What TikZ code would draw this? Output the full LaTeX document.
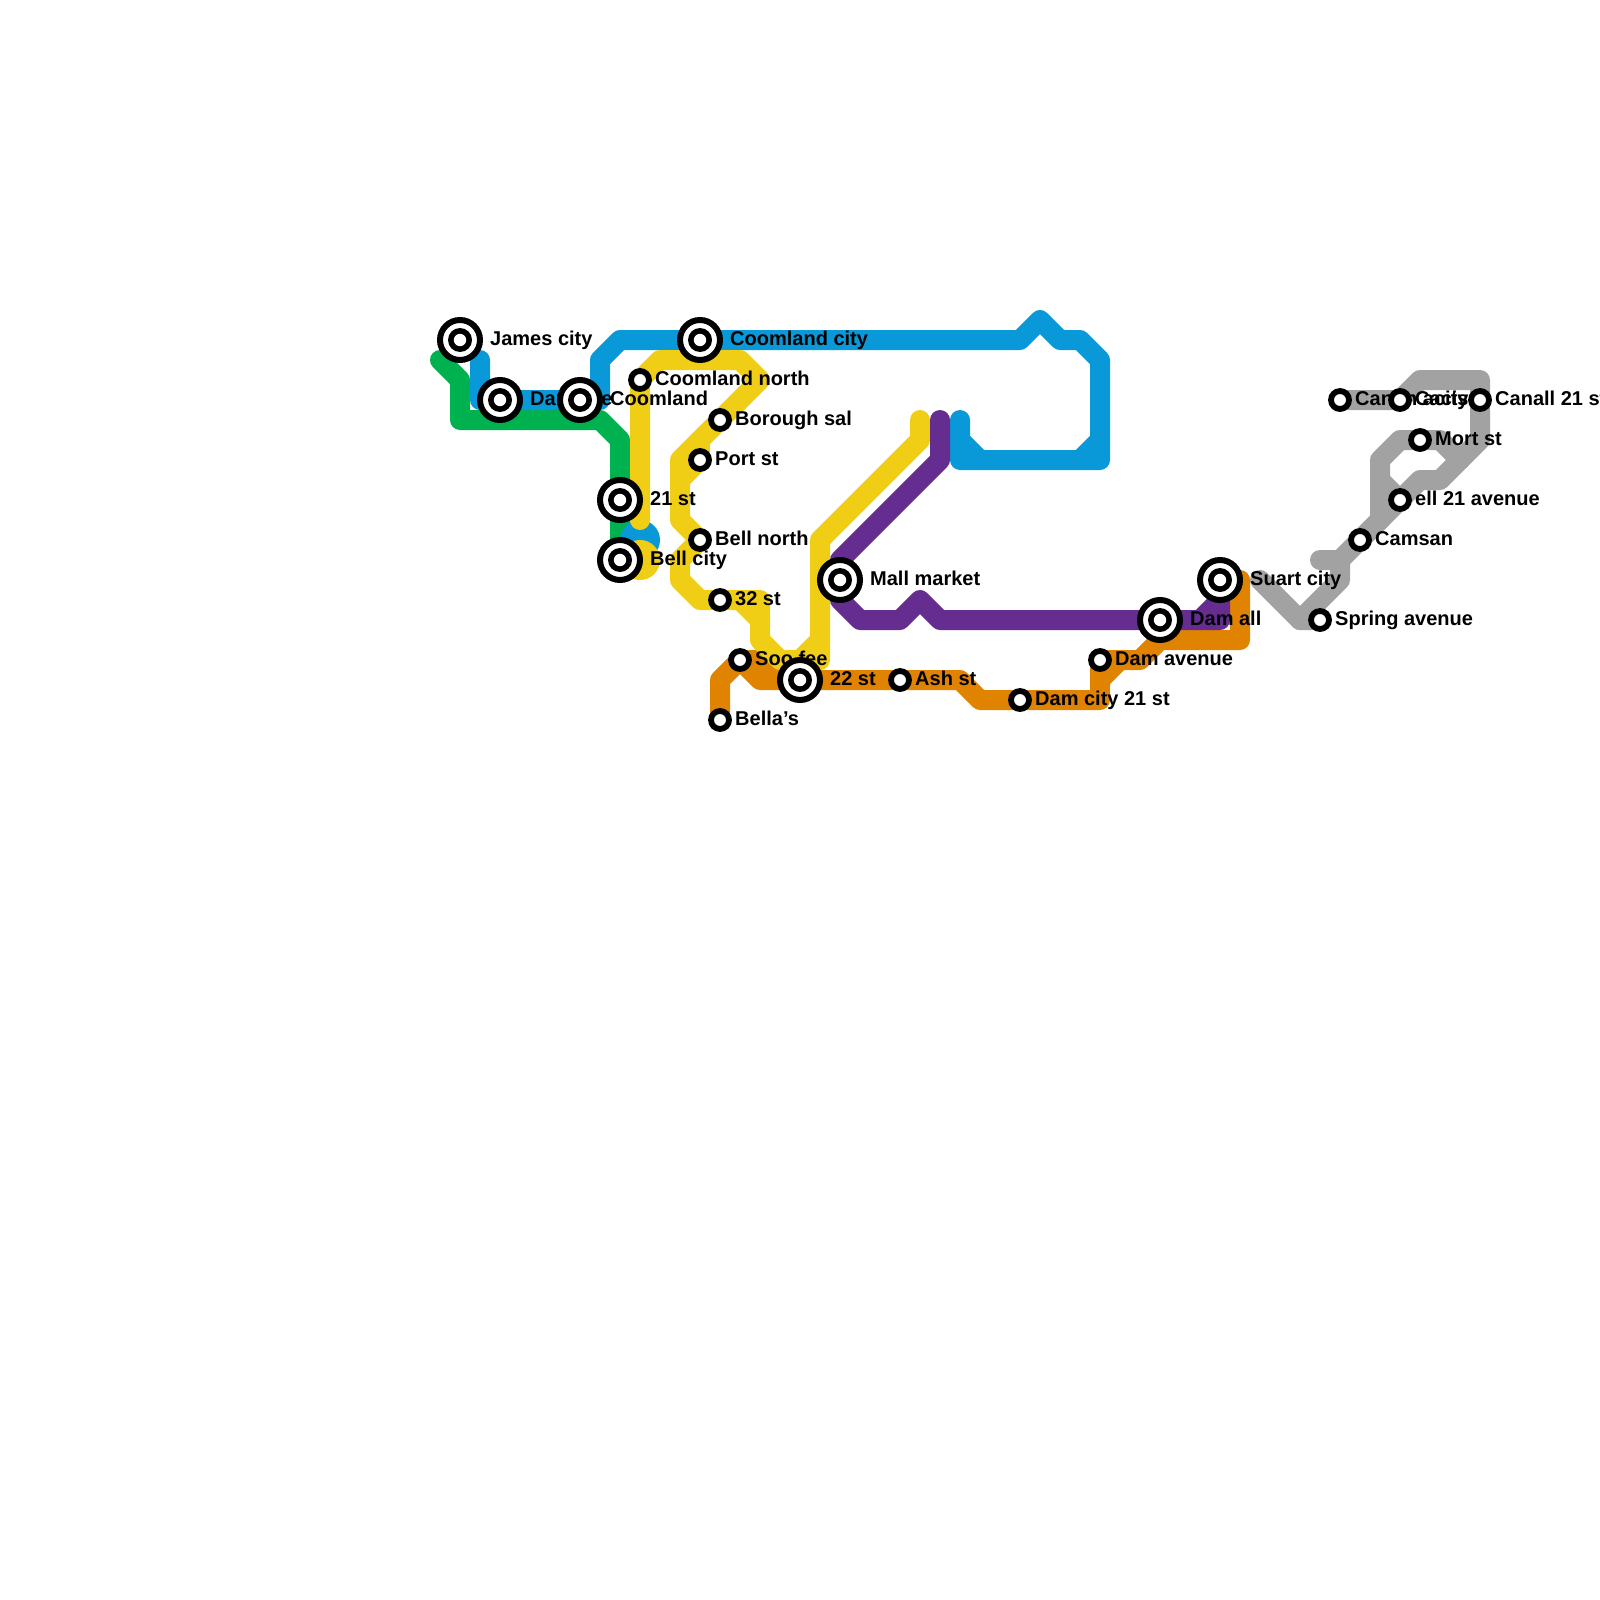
\documentclass[tikz,border=0pt]{standalone}
\usepackage{fontspec}
\setmainfont{Liberation Sans}[BoldFont={Liberation Sans Bold}]
\pgfdeclarelayer{routes}
\pgfdeclarelayer{labels}
\pgfsetlayers{routes,labels,main}
\definecolor{rblue}{RGB}{9,152,216}
\definecolor{rgreen}{RGB}{0,177,79}
\definecolor{ryellow}{RGB}{240,206,21}
\definecolor{rpurple}{RGB}{102,45,145}
\definecolor{rorange}{RGB}{223,131,0}
\definecolor{rgrey}{RGB}{162,162,162}
\tikzset{
  x=1pt,y=-1pt,
  route/.style={line width=20pt,line join=round,line cap=round},
  bigstn/.style={circle,draw=black,fill=white,line width=6pt,minimum size=40pt,inner sep=0pt,outer sep=0pt,
    path picture={\fill[black] (path picture bounding box.center) circle (12pt);\fill[white] (path picture bounding box.center) circle (6.2pt);}},
  smallstn/.style={circle,draw=black,fill=white,line width=5.8pt,minimum size=18pt,inner sep=0pt,outer sep=0pt},
  lab/.style={anchor=base west,font=\fontsize{20pt}{22pt}\selectfont\bfseries,inner sep=0pt,text=black},
}
\newcommand{\biglab}[3]{\begin{pgfonlayer}{labels}\node[lab] (l#1) at ([xshift=30pt,yshift=-5pt]#1.center) {#2};\end{pgfonlayer}}
\newcommand{\smalllab}[3]{\begin{pgfonlayer}{labels}\node[lab] (l#1) at ([xshift=15pt,yshift=-5pt]#1.center) {#2};\end{pgfonlayer}}
\begin{document}
\begin{tikzpicture}
\useasboundingbox (0,0) rectangle (1600,1600);
% stations
\node[bigstn] (james) at (460,340) {};
\node[bigstn] (daml) at (500,400) {};
\node[bigstn] (cooml) at (580,400) {};
\node[bigstn] (coomc) at (700,340) {};
\node[smallstn] (coomn) at (640,380) {};
\node[smallstn] (borough) at (720,420) {};
\node[smallstn] (port) at (700,460) {};
\node[bigstn] (tws) at (620,500) {};
\node[smallstn] (belln) at (700,540) {};
\node[bigstn] (bellc) at (620,560) {};
\node[smallstn] (tts) at (720,600) {};
\node[smallstn] (soo) at (740,660) {};
\node[bigstn] (tt) at (800,680) {};
\node[smallstn] (ash) at (900,680) {};
\node[smallstn] (bella) at (720,720) {};
\node[bigstn] (mall) at (840,580) {};
\node[smallstn] (damc) at (1020,700) {};
\node[smallstn] (dama) at (1100,660) {};
\node[bigstn] (damal) at (1160,620) {};
\node[bigstn] (suart) at (1220,580) {};
\node[smallstn] (spring) at (1320,620) {};
\node[smallstn] (camsan) at (1360,540) {};
\node[smallstn] (ellav) at (1400,500) {};
\node[smallstn] (mort) at (1420,440) {};
\node[smallstn] (cana) at (1340,400) {};
\node[smallstn] (cacs) at (1400,400) {};
\node[smallstn] (canl) at (1480,400) {};
% labels
\biglab{james}{James city}{}
\biglab{daml}{Dam ave}{}
\biglab{cooml}{Coomland}{}
\biglab{coomc}{Coomland city}{}
\smalllab{coomn}{Coomland north}{}
\smalllab{borough}{Borough sal}{}
\smalllab{port}{Port st}{}
\biglab{tws}{21 st}{}
\smalllab{belln}{Bell north}{}
\biglab{bellc}{Bell city}{}
\smalllab{tts}{32 st}{}
\smalllab{soo}{Soo fee}{}
\biglab{tt}{22 st}{}
\smalllab{ash}{Ash st}{}
\smalllab{bella}{Bella’s}{}
\biglab{mall}{Mall market}{}
\smalllab{damc}{Dam city 21 st}{}
\smalllab{dama}{Dam avenue}{}
\biglab{damal}{Dam all}{}
\biglab{suart}{Suart city}{}
\smalllab{spring}{Spring avenue}{}
\smalllab{camsan}{Camsan}{}
\smalllab{ellav}{ell 21 avenue}{}
\smalllab{mort}{Mort st}{}
\smalllab{cana}{Canon acity}{}
\smalllab{cacs}{Cacis}{}
\smalllab{canl}{Canall 21 st}{}
% routes
\begin{pgfonlayer}{routes}
\draw[route,rgrey] (1260,580) -- (1300,620) -- (spring.center);
\draw[route,rgrey] (1300,620) -- (1340,580) -- (1340,560) -- (1320,560);
\draw[route,rgrey] (1340,560) -- (camsan.center) -- (ellav.center) -- (1420,480) -- (1440,480) -- (1480,440) -- (canl.center) -- (1480,380) -- (1420,380) -- (cacs.center) -- (cana.center);
\draw[route,rgrey] (camsan.center) -- (1380,520) -- (1380,460) -- (1400,440) -- (mort.center) -- (1440,440) -- (1460,460);
\draw[route,rgrey] (1380,480) -- (ellav.center);
\draw[route,rgreen] (440,360) -- (460,380) -- (460,420) -- (600,420) -- (620,440) -- (bellc.center);
\draw[route,rorange] (bella.center) -- (720,680) -- (soo.center) -- (760,680) -- (tt.center) -- (ash.center) -- (960,680) -- (980,700) -- (damc.center) -- (1100,700) -- (dama.center) -- (1140,660) -- (1160,640) -- (1240,640) -- (1240,580);
\draw[route,rorange] (soo.center) -- (780,660) -- (800,680);
\draw[route,rorange] (1100,680) -- (1120,660);
\draw[route,rblue] (480,360) -- (480,400) -- (daml.center) -- (cooml.center) -- (600,400) -- (600,360) -- (620,340) -- (coomc.center) -- (1020,340) -- (1040,320) -- (1060,340) -- (1080,340) -- (1100,360) -- (1100,460) -- (960,460) -- (960,420);
\draw[route,rblue] (1100,440) -- (1080,460);
\draw[route,rblue] (960,440) -- (980,460);
\fill[rblue] (640,540) circle (20pt);
\draw[route,ryellow] (640,520) -- (coomn.center) -- (660,360) -- (740,360) -- (760,380) -- (borough.center) -- (680,460) -- (680,520) -- (belln.center) -- (680,560) -- (680,580) -- (700,600) -- (tts.center) -- (760,600) -- (760,640) -- (780,660) -- (820,660) -- (820,540) -- (920,440) -- (920,420);
\draw[route,ryellow] (700,440) -- (port.center) -- (680,480);
\draw[route,ryellow] (740,600) -- (760,620);
\draw[route,ryellow] (800,660) -- (820,640);
\fill[ryellow] (640,560) circle (20pt);
\draw[route,rpurple] (940,420) -- (940,460) -- (840,560) -- (mall.center) -- (840,600) -- (860,620) -- (900,620) -- (920,600) -- (940,620) -- (damal.center) -- (1220,620) -- (suart.center);
\draw[route,rpurple] (1200,620) -- (1220,600);
\end{pgfonlayer}
\end{tikzpicture}
\end{document}
